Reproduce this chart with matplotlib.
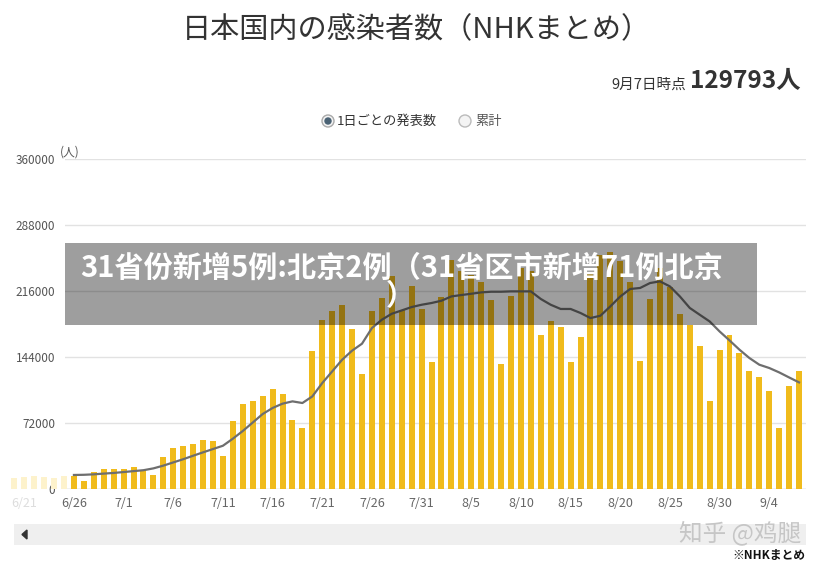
import matplotlib
matplotlib.use("Agg")
import matplotlib.pyplot as plt
from matplotlib.patches import Rectangle, Circle, Polygon

plt.rcParams['font.family'] = ['Noto Sans CJK JP', 'DejaVu Sans']

# 6/26 - 9/7 の日ごとの発表数（グラフ目盛りのまま読み取り）
new_cases = [14500, 9000, 18500, 22000, 22000,
             22000, 24300, 21000, 15600, 35000, 45000, 47000, 49400, 53800, 52700,
             36300, 74500, 93000, 96300, 102000, 109400, 104000, 75600, 66100, 150900,
             184700, 193700, 200300, 174900, 125800, 194500, 208400, 231900, 195600, 221000,
             196700,
             138500, 209500, 249400, 237400, 233800, 225800, 205700, 136700, 210900, 241100,
             237400, 167600, 182800, 176700, 138100, 165400, 235600, 255600, 258100, 248300,
             225400, 140000, 207600, 241100, 220400, 191200, 179200, 156300, 95600, 151200,
             167600,
             148400, 128300, 121700, 107200, 66500, 111900, 129000]

# 7日間平均の線
avg_cases = [15300, 15500, 16000, 16800, 17500,
             18500, 19500, 20500, 22500, 25500, 29000, 32500, 36300, 40000, 43600,
             47200, 54900, 63300, 72500, 81800, 88400, 93100, 95600, 93800, 101000,
             115600, 128300, 141000, 150900, 158500, 175600, 184700, 191200, 194800, 198500,
             201000,
             202900, 205400, 210100, 211600, 213000, 214500, 215200, 215200, 215600, 215600,
             215600, 207300, 201000, 196400, 196400, 192000, 186500, 189000, 199200, 210000,
             218200, 219300, 224700, 226500, 221000, 210100, 197500, 190100, 182800, 171900,
             162100,
             152000, 142900, 135600, 132000, 127200, 121700, 116300]

# スクロールで隠れている 6/20 - 6/25
faded_cases = [12500, 13500, 14000, 13500, 12500, 14000]

tick_labels = ["6/26", "7/1", "7/6", "7/11", "7/16", "7/21", "7/26", "7/31",
               "8/5", "8/10", "8/15", "8/20", "8/25", "8/30", "9/4"]
y_ticks = [0, 72000, 144000, 216000, 288000, 360000]

W, H = 825, 569
BAR = '#f0bb1c'
CN = ['Noto Sans CJK SC', 'DejaVu Sans']

fig = plt.figure(figsize=(8.25, 5.69), dpi=100)
fig.patch.set_facecolor('white')

# メインのグラフ
ax = fig.add_axes([65 / W, 1 - 489 / H, 741 / W, 330 / H])
days = list(range(len(new_cases)))
ax.bar(days, new_cases, width=0.6, color=BAR, zorder=2)
ax.bar(range(-len(faded_cases), 0), faded_cases, width=0.6, color='#fdf2cc',
       zorder=2, clip_on=False)
ax.plot(days, avg_cases, color='#6e6e6e', lw=1.6, zorder=3)

ax.set_xlim(-0.9, 73.7)
ax.set_ylim(0, 360000)
ax.set_yticks(y_ticks)
ax.set_yticklabels([str(v) for v in y_ticks], fontsize=8.5, color='#555555')
ax.set_xticks(range(0, 5 * len(tick_labels), 5))
ax.set_xticklabels(tick_labels, fontsize=9, color='#666666')
ax.tick_params(length=0, pad=7)
ax.tick_params(axis='x', pad=6)
ax.grid(axis='y', color='#e2e2e2', lw=1, zorder=0)
for s in ax.spines.values():
    s.set_visible(False)
ax.axhline(0, color='#cccccc', lw=1, zorder=1)
ax.text(-5, -0.045, "6/21", transform=ax.get_xaxis_transform(), ha='center',
        va='center', fontsize=9, color='#dddddd', clip_on=False)

# 飾り（タイトル、ラジオボタン、バナー等）はピクセル座標で
ov = fig.add_axes([0, 0, 1, 1], zorder=5)
ov.set_xlim(0, W)
ov.set_ylim(H, 0)
ov.axis('off')
ov.patch.set_alpha(0)

ov.text(416, 30, "日本国内の感染者数（NHKまとめ）", ha='center', va='center',
        fontsize=21, color='#333333')
ov.text(686, 85, "9月7日時点", ha='right', va='center', fontsize=10.5, color='#333333')
ov.text(690, 81, "129793人", ha='left', va='center', fontsize=17.5, color='#333333',
        weight='bold')

ov.add_patch(Circle((328, 121), 6, facecolor='#f4f4f4', edgecolor='#aaaaaa', lw=1))
ov.add_patch(Circle((328, 121), 3, color='#4a6274'))
ov.text(337, 121, "1日ごとの発表数", ha='left', va='center', fontsize=9.5, color='#333333')
ov.add_patch(Circle((465, 121), 6, facecolor='#f4f4f4', edgecolor='#bbbbbb', lw=1))
ov.text(475, 121, "累計", ha='left', va='center', fontsize=9.5, color='#555555')

ov.text(60, 152, "(人)", ha='left', va='center', fontsize=8.5, color='#555555')

# スクロールバー
ov.add_patch(Rectangle((14, 524), 792, 21, color='#efefef', lw=0))
ov.add_patch(Polygon([[22, 534.5], [27, 530], [27, 539]], color='#333333'))
ov.text(740, 533, "知乎 @鸡腿", ha='center', va='center', fontsize=17,
        color='#c6c6c6', family=CN)
ov.text(805, 555, "※NHKまとめ", ha='right', va='center', fontsize=8.5,
        color='#111111', weight='bold')

# 上に重なっているバナー
ov.add_patch(Rectangle((65, 243), 692, 82, color='black', alpha=0.38, lw=0))
ov.text(80, 268, "31省份新增5例:北京2例（31省区市新增71例北京", ha='left', va='center',
        fontsize=21, color='white', weight='bold', family=CN)
ov.text(400, 296, "）", ha='center', va='center', fontsize=21, color='white',
        weight='bold', family=CN)

fig.savefig("out.png", dpi=100)
